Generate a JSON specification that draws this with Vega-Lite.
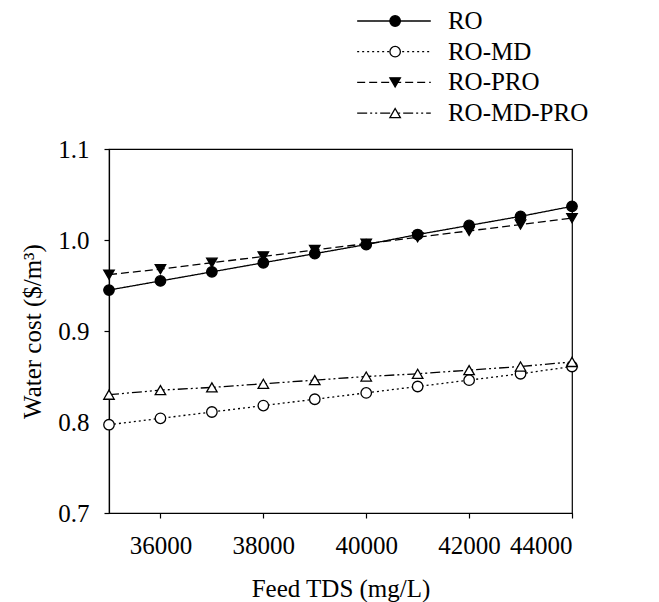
{
  "$schema": "https://vega.github.io/schema/vega-lite/v6.json",
  "padding": {"left": 20, "top": 5, "right": 5, "bottom": 5},
  "background": "white",
  "spacing": 5,
  "config": {
    "font": "Liberation Serif",
    "axis": {"domainColor": "black", "tickColor": "black", "labelColor": "black", "titleColor": "black", "labelFont": "Liberation Serif", "titleFont": "Liberation Serif", "labelFontSize": 25, "titleFontSize": 25, "titleFontWeight": "normal", "grid": false, "tickSize": 5, "domainWidth": 1.2, "tickWidth": 1.2},
    "view": {"stroke": "black", "strokeWidth": 1.2}
  },
  "datasets": {
    "cost": [
      {"tds": 35000, "series": "RO", "cost": 0.945},
      {"tds": 36000, "series": "RO", "cost": 0.955},
      {"tds": 37000, "series": "RO", "cost": 0.965},
      {"tds": 38000, "series": "RO", "cost": 0.975},
      {"tds": 39000, "series": "RO", "cost": 0.985},
      {"tds": 40000, "series": "RO", "cost": 0.995},
      {"tds": 41000, "series": "RO", "cost": 1.006},
      {"tds": 42000, "series": "RO", "cost": 1.016},
      {"tds": 43000, "series": "RO", "cost": 1.026},
      {"tds": 44000, "series": "RO", "cost": 1.037},
      {"tds": 35000, "series": "RO-MD", "cost": 0.797},
      {"tds": 36000, "series": "RO-MD", "cost": 0.804},
      {"tds": 37000, "series": "RO-MD", "cost": 0.811},
      {"tds": 38000, "series": "RO-MD", "cost": 0.818},
      {"tds": 39000, "series": "RO-MD", "cost": 0.825},
      {"tds": 40000, "series": "RO-MD", "cost": 0.832},
      {"tds": 41000, "series": "RO-MD", "cost": 0.839},
      {"tds": 42000, "series": "RO-MD", "cost": 0.846},
      {"tds": 43000, "series": "RO-MD", "cost": 0.853},
      {"tds": 44000, "series": "RO-MD", "cost": 0.861},
      {"tds": 35000, "series": "RO-PRO", "cost": 0.962},
      {"tds": 36000, "series": "RO-PRO", "cost": 0.968},
      {"tds": 37000, "series": "RO-PRO", "cost": 0.975},
      {"tds": 38000, "series": "RO-PRO", "cost": 0.982},
      {"tds": 39000, "series": "RO-PRO", "cost": 0.989},
      {"tds": 40000, "series": "RO-PRO", "cost": 0.996},
      {"tds": 41000, "series": "RO-PRO", "cost": 1.003},
      {"tds": 42000, "series": "RO-PRO", "cost": 1.010},
      {"tds": 43000, "series": "RO-PRO", "cost": 1.017},
      {"tds": 44000, "series": "RO-PRO", "cost": 1.024},
      {"tds": 35000, "series": "RO-MD-PRO", "cost": 0.830},
      {"tds": 36000, "series": "RO-MD-PRO", "cost": 0.835},
      {"tds": 37000, "series": "RO-MD-PRO", "cost": 0.838},
      {"tds": 38000, "series": "RO-MD-PRO", "cost": 0.842},
      {"tds": 39000, "series": "RO-MD-PRO", "cost": 0.846},
      {"tds": 40000, "series": "RO-MD-PRO", "cost": 0.850},
      {"tds": 41000, "series": "RO-MD-PRO", "cost": 0.853},
      {"tds": 42000, "series": "RO-MD-PRO", "cost": 0.857},
      {"tds": 43000, "series": "RO-MD-PRO", "cost": 0.861},
      {"tds": 44000, "series": "RO-MD-PRO", "cost": 0.866}
    ],
    "legend": [
      {"series": "RO", "row": 1},
      {"series": "RO-MD", "row": 2},
      {"series": "RO-PRO", "row": 3},
      {"series": "RO-MD-PRO", "row": 4}
    ]
  },
  "vconcat": [
    {
      "width": 463,
      "height": 126,
      "view": {"stroke": null},
      "data": {"name": "legend"},
      "encoding": {
        "y": {"field": "row", "type": "quantitative", "scale": {"domain": [0.478, 4.586], "reverse": true}, "axis": null}
      },
      "layer": [
        {
          "mark": {"type": "rule", "color": "black", "strokeWidth": 1.3},
          "encoding": {
            "x": {"datum": 0.536, "type": "quantitative", "scale": {"domain": [0, 1]}, "axis": null},
            "x2": {"datum": 0.695},
            "strokeDash": {"field": "series", "type": "nominal", "scale": {"domain": ["RO", "RO-MD", "RO-PRO", "RO-MD-PRO"], "range": [[1, 0], [2, 3], [8, 4], [10, 3, 2, 3, 2, 3]]}, "legend": null}
          }
        },
        {
          "mark": {"type": "point", "filled": true, "stroke": "black", "strokeWidth": 1.3, "opacity": 1, "size": 110},
          "encoding": {
            "x": {"datum": 0.618, "type": "quantitative"},
            "shape": {"field": "series", "type": "nominal", "scale": {"domain": ["RO", "RO-MD", "RO-PRO", "RO-MD-PRO"], "range": ["circle", "circle", "triangle-down", "triangle-up"]}, "legend": null},
            "fill": {"field": "series", "type": "nominal", "scale": {"domain": ["RO", "RO-MD", "RO-PRO", "RO-MD-PRO"], "range": ["black", "white", "black", "white"]}, "legend": null}
          }
        },
        {
          "mark": {"type": "text", "align": "left", "baseline": "middle", "font": "Liberation Serif", "fontSize": 25, "color": "black"},
          "encoding": {
            "x": {"datum": 0.732, "type": "quantitative"},
            "text": {"field": "series", "type": "nominal"}
          }
        }
      ]
    },
    {
      "width": 463,
      "height": 364,
      "data": {"name": "cost"},
      "encoding": {
        "x": {"field": "tds", "type": "quantitative", "title": "Feed TDS (mg/L)", "scale": {"domain": [35000, 44000], "nice": false, "zero": false}, "axis": {"values": [36000, 38000, 40000, 42000, 44000], "format": "d", "labelPadding": 15, "titlePadding": 18}},
        "y": {"field": "cost", "type": "quantitative", "title": "Water cost ($/m³)", "scale": {"domain": [0.7, 1.1], "nice": false, "zero": false}, "axis": {"values": [0.7, 0.8, 0.9, 1.0, 1.1], "format": ".1f", "labelPadding": 15, "titlePadding": 12}}
      },
      "layer": [
        {
          "mark": {"type": "line", "color": "black", "strokeWidth": 1.3},
          "encoding": {
            "strokeDash": {"field": "series", "type": "nominal", "scale": {"domain": ["RO", "RO-MD", "RO-PRO", "RO-MD-PRO"], "range": [[1, 0], [2, 3], [8, 4], [10, 3, 2, 3, 2, 3]]}, "legend": null}
          }
        },
        {
          "mark": {"type": "point", "filled": true, "stroke": "black", "strokeWidth": 1.3, "opacity": 1, "size": 110},
          "encoding": {
            "shape": {"field": "series", "type": "nominal", "scale": {"domain": ["RO", "RO-MD", "RO-PRO", "RO-MD-PRO"], "range": ["circle", "circle", "triangle-down", "triangle-up"]}, "legend": null},
            "fill": {"field": "series", "type": "nominal", "scale": {"domain": ["RO", "RO-MD", "RO-PRO", "RO-MD-PRO"], "range": ["black", "white", "black", "white"]}, "legend": null}
          }
        }
      ]
    }
  ]
}
